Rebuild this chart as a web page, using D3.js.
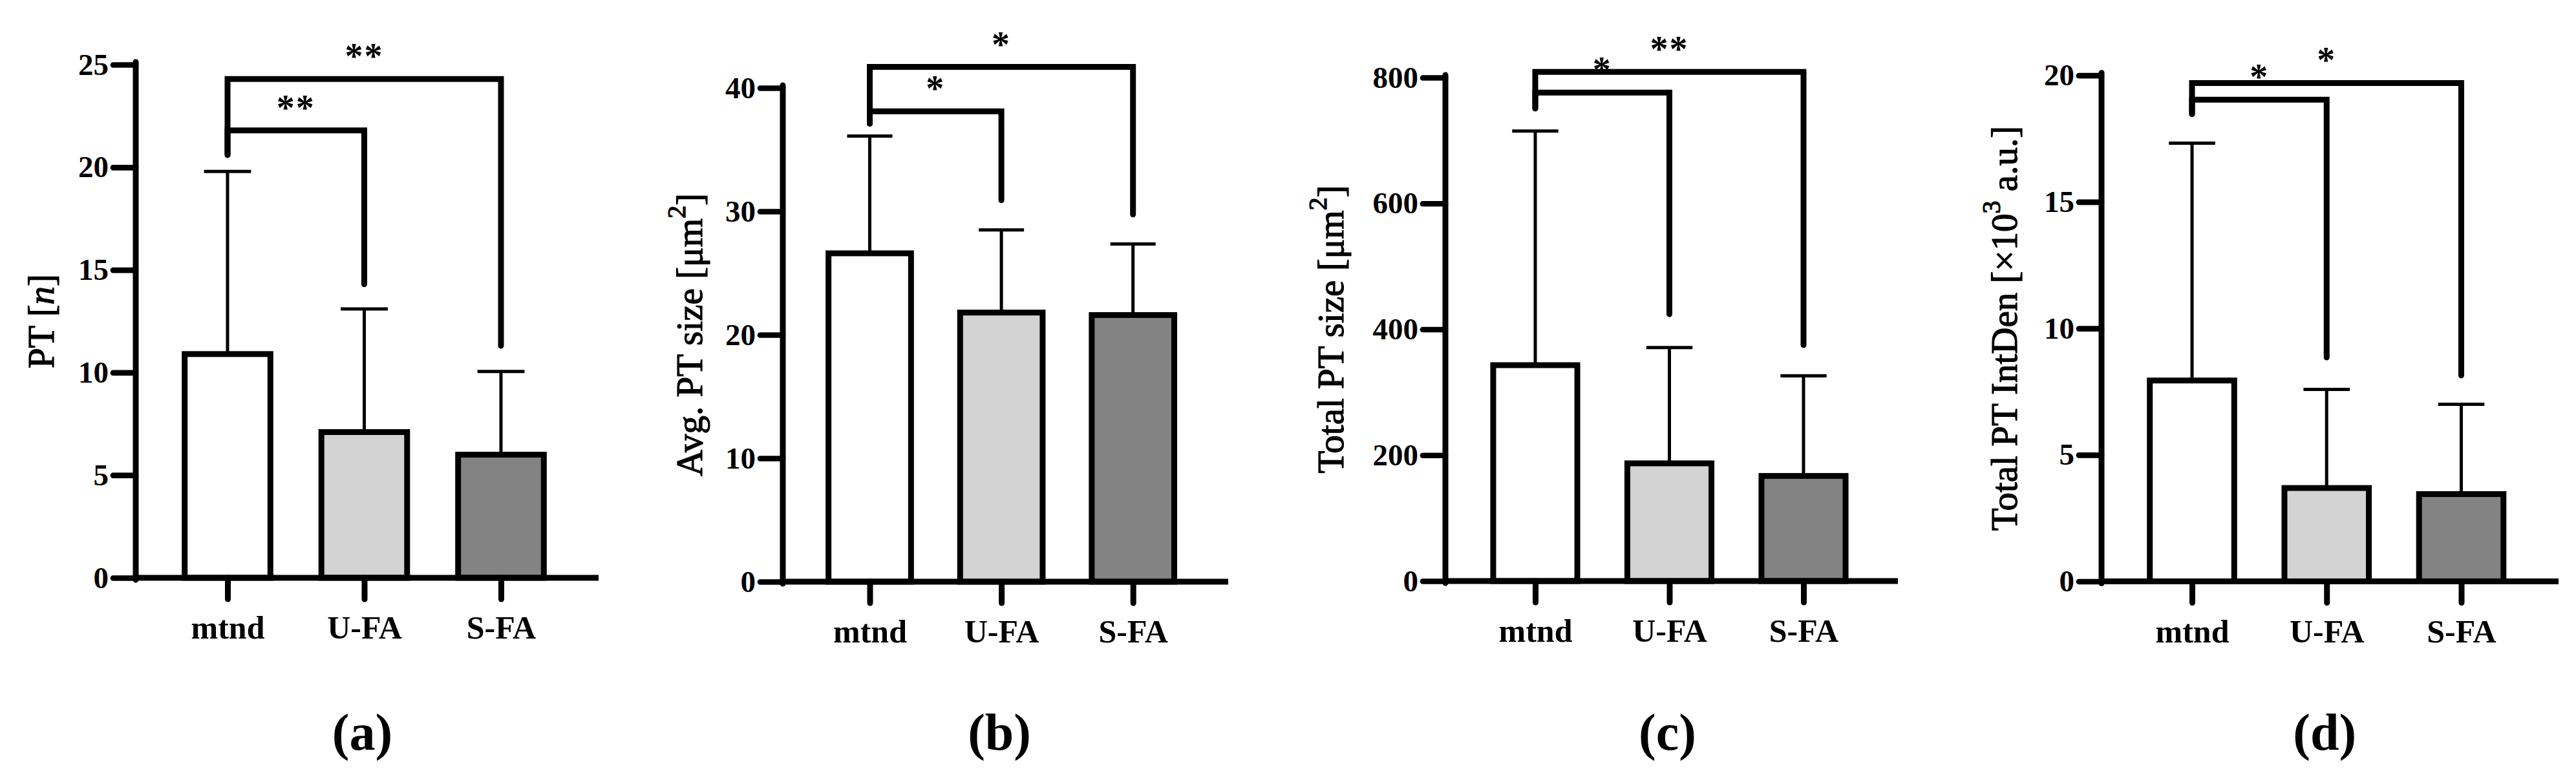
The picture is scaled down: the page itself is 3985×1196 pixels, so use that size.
<!DOCTYPE html>
<meta charset="UTF-8">
<style>
body { margin: 0; background: #fff; }
svg { display: block; background: #fff; }
.serif { font-family: "Liberation Serif", "Times New Roman", serif; }
</style>
<svg width="3985" height="1196"></svg>
<script src="https://d3js.org/d3.v7.min.js"></script>
<script>
// groups and values (mean and SD)
var groups = ["mtnd", "U-FA", "S-FA"];

var ptMean = [10.9, 7.1, 6.0];
var ptSD = [8.9, 6.0, 4.05];
var avgMean = [26.6, 21.8, 21.6];
var avgSD = [9.5, 6.7, 5.75];
var totMean = [343, 187, 167];
var totSD = [372, 184, 159];
var intMean = [7.94, 3.69, 3.45];
var intSD = [9.38, 3.9, 3.55];

var ptTicks = [0, 5, 10, 15, 20, 25];
var avgTicks = [0, 10, 20, 30, 40];
var totTicks = [0, 200, 400, 600, 800];
var intTicks = [0, 5, 10, 15, 20];

// significance brackets: compared groups, bar level, leg ends (data units), stars
var ptSig = [
    {a: 0, b: 1, level: 21.8, left: 20.6, right: 14.3, label: "**"},
    {a: 0, b: 2, level: 24.3, left: 20.6, right: 11.3, label: "**"}
];
var avgSig = [
    {a: 0, b: 1, level: 38.1, left: 37.1, right: 30.9, label: "*"},
    {a: 0, b: 2, level: 41.7, left: 37.1, right: 29.75, label: "*"}
];
var totSig = [
    {a: 0, b: 1, level: 776, left: 751, right: 424, label: "*"},
    {a: 0, b: 2, level: 809, left: 751, right: 375, label: "**"}
];
var intSig = [
    {a: 0, b: 1, level: 19.04, left: 18.47, right: 8.85, label: "*"},
    {a: 0, b: 2, level: 19.7, left: 18.47, right: 8.14, label: "*"}
];

var fills = ["#ffffff", "#d3d3d3", "#838383"];

var panels = [
    {tag: "(a)", mean: ptMean, sd: ptSD, ticks: ptTicks, sig: ptSig,
     title: [["PT ["], ["n", "italic"], ["]"]],
     axisX: 210, y0: 894, yTop: 100, c0: 352, c2: 775, xEnd: 926, titleX: 83},
    {tag: "(b)", mean: avgMean, sd: avgSD, ticks: avgTicks, sig: avgSig,
     title: [["Avg. PT size [μm"], ["2", "sup"], ["]"]],
     axisX: 1211, y0: 900, yTop: 136, c0: 1345.5, c2: 1752.7, xEnd: 1900, titleX: 1086},
    {tag: "(c)", mean: totMean, sd: totSD, ticks: totTicks, sig: totSig,
     title: [["Total PT size [μm"], ["2", "sup"], ["]"]],
     axisX: 2236, y0: 899, yTop: 120, c0: 2375, c2: 2790, xEnd: 2936, titleX: 2078},
    {tag: "(d)", mean: intMean, sd: intSD, ticks: intTicks, sig: intSig,
     title: [["Total PT IntDen [×10"], ["3", "sup"], [" a.u.]"]],
     axisX: 3251, y0: 899.5, yTop: 116.7, c0: 3391, c2: 3807.5, xEnd: 3958, titleX: 3120}
];

var svg = d3.select("svg");

panels.forEach(function(p) {
    var g = svg.append("g").attr("class", "serif");
    var ticks = p.ticks;
    var y = d3.scaleLinear()
        .domain([0, ticks[ticks.length - 1]])
        .range([p.y0, p.yTop]);
    var x = d3.scalePoint().domain(groups).range([p.c0, p.c2]);
    var step = x.step();
    var barW = step * 0.627;
    var capW = step * 0.172;

    var rows = groups.map(function(name, i) {
        return {name: name, mean: p.mean[i], sd: p.sd[i], fill: fills[i]};
    });

    // error bars (upper only)
    g.selectAll(".err").data(rows).enter().append("line")
        .attr("x1", d => x(d.name)).attr("x2", d => x(d.name))
        .attr("y1", d => y(d.mean)).attr("y2", d => y(d.mean + d.sd))
        .attr("stroke", "#000").attr("stroke-width", 5);
    g.selectAll(".cap").data(rows).enter().append("line")
        .attr("x1", d => x(d.name) - capW).attr("x2", d => x(d.name) + capW)
        .attr("y1", d => y(d.mean + d.sd)).attr("y2", d => y(d.mean + d.sd))
        .attr("stroke", "#000").attr("stroke-width", 5);

    // bars
    g.selectAll(".bar").data(rows).enter().append("rect")
        .attr("x", d => x(d.name) - barW / 2)
        .attr("width", barW)
        .attr("y", d => y(d.mean))
        .attr("height", d => y(0) - y(d.mean))
        .attr("fill", d => d.fill)
        .attr("stroke", "#000").attr("stroke-width", 9);

    // y axis
    var ya = g.append("g")
        .attr("transform", "translate(" + p.axisX + ",0)")
        .call(d3.axisLeft(y).tickValues(ticks).tickSize(35).tickPadding(7));
    ya.select(".domain").remove();
    ya.selectAll(".tick line").attr("stroke", "#000").attr("stroke-width", 8.7)
        .attr("stroke-linecap", "round");
    ya.selectAll(".tick text")
        .attr("font-family", "Liberation Serif, Times New Roman, serif")
        .attr("font-weight", "bold").attr("font-size", 47).attr("fill", "#000");
    ya.attr("font-family", null).attr("font-size", null);

    g.append("line")
        .attr("x1", p.axisX).attr("x2", p.axisX)
        .attr("y1", p.y0 + 3).attr("y2", p.yTop - 4)
        .attr("stroke", "#000").attr("stroke-width", 9).attr("stroke-linecap", "round");

    // x axis
    g.append("line")
        .attr("x1", p.axisX).attr("x2", p.xEnd)
        .attr("y1", p.y0).attr("y2", p.y0)
        .attr("stroke", "#000").attr("stroke-width", 9);
    var xa = g.append("g")
        .attr("transform", "translate(0," + p.y0 + ")")
        .call(d3.axisBottom(x).tickSize(33).tickPadding(0));
    xa.select(".domain").remove();
    xa.selectAll(".tick line").attr("stroke", "#000").attr("stroke-width", 9)
        .attr("stroke-linecap", "round");
    xa.selectAll(".tick text")
        .attr("y", 94).attr("dy", null)
        .attr("font-family", "Liberation Serif, Times New Roman, serif")
        .attr("font-weight", "bold").attr("font-size", 50).attr("fill", "#000");
    xa.attr("font-family", null).attr("font-size", null);

    // significance stars, then brackets on top
    g.selectAll(".star").data(p.sig).enter().append("text")
        .attr("x", d => (x(groups[d.a]) + x(groups[d.b])) / 2)
        .attr("y", d => y(d.level) - 16)
        .attr("text-anchor", "middle")
        .attr("font-weight", "bold").attr("font-size", 56)
        .attr("letter-spacing", 2)
        .text(d => d.label);
    g.selectAll(".bracket").data(p.sig).enter().append("path")
        .attr("d", d => "M" + x(groups[d.a]) + "," + y(d.left) +
            "V" + y(d.level) + "H" + x(groups[d.b]) + "V" + y(d.right))
        .attr("fill", "none").attr("stroke", "#000").attr("stroke-width", 9)
        .attr("stroke-linecap", "round").attr("stroke-linejoin", "miter");

    // y title (slight stroke to match the heavier original face)
    var t = g.append("text")
        .attr("transform", "translate(" + p.titleX + "," + ((p.y0 + p.yTop) / 2) + ") rotate(-90)")
        .attr("text-anchor", "middle")
        .attr("font-size", 57)
        .attr("stroke", "#000").attr("stroke-width", 1.2);
    p.title.forEach(function(part, i) {
        var s = t.append("tspan").text(part[0]);
        if (part[1] === "italic") s.attr("font-style", "italic");
        if (part[1] === "sup") s.attr("font-size", 40).attr("dy", -26);
        if (i > 0 && p.title[i - 1][1] === "sup") s.attr("dy", 26);
    });

    // panel tag
    g.append("text")
        .attr("x", x(groups[1]) - 3).attr("y", 1160)
        .attr("text-anchor", "middle")
        .attr("font-weight", "bold").attr("font-size", 80)
        .text(p.tag);
});
</script>
